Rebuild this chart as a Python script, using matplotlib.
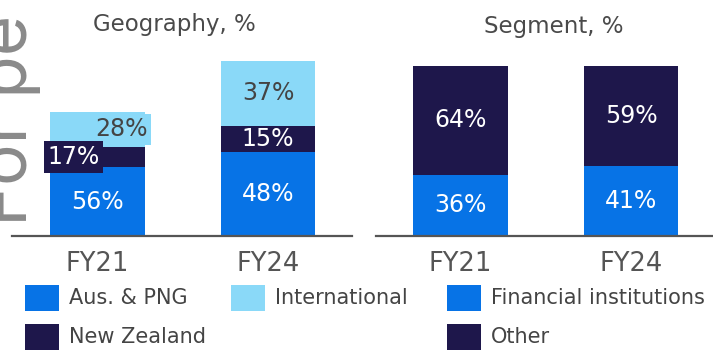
import matplotlib.pyplot as plt
from matplotlib.patches import Rectangle

plt.rcParams['font.family'] = ['DejaVu Sans']

years = ["FY21", "FY24"]

# geography split, % of each year's total
geo_aus_png = [56, 48]
geo_new_zealand = [17, 15]
geo_international = [28, 37]
# FY21 geography bar is drawn smaller, relative to the FY24 total
geo_relative_total = [0.70, 1.00]

# segment split, %
seg_financial = [36, 41]
seg_other = [64, 59]

BLUE = "#0773E6"
NAVY = "#1E174B"
LIGHT = "#8AD9F8"
TEXT = "#4a4a4a"

W, H = 713, 352
fig = plt.figure(figsize=(W / 100, H / 100), dpi=100)


def px_axes(x0, x1, y_top, y_bottom):
    return fig.add_axes([x0 / W, 1 - y_bottom / H, (x1 - x0) / W, (y_bottom - y_top) / H])


def style_axes(ax, xlim, ylim):
    ax.set_xlim(*xlim)
    ax.set_ylim(*ylim)
    for side in ("top", "left", "right"):
        ax.spines[side].set_visible(False)
    ax.spines["bottom"].set_color("#555555")
    ax.spines["bottom"].set_linewidth(1.6)
    ax.set_yticks([])
    ax.set_xticks(range(len(years)), years)
    ax.tick_params(axis="x", length=0, pad=11, labelsize=18.5, labelcolor="#555555")
    ax.patch.set_alpha(0)


BAR_W = 0.555
LABEL_SIZE = 17

# geography panel
ax_geo = px_axes(12, 352, 0, 236)
style_axes(ax_geo, (-0.501, 1.493), (0, 236 / 1.75))

bottom = [0.0, 0.0]
geo_series = [
    (geo_aus_png, BLUE, "white"),
    (geo_new_zealand, NAVY, "white"),
    (geo_international, LIGHT, "#444444"),
]
for k, (vals, col, tcol) in enumerate(geo_series):
    heights = [v * s for v, s in zip(vals, geo_relative_total)]
    ax_geo.bar(range(len(years)), heights, bottom=bottom, width=BAR_W, color=col,
               linewidth=0, zorder=2)
    for i, (v, h, b) in enumerate(zip(vals, heights, bottom)):
        y = b + h / 2
        if i == 0 and k > 0:
            # thin FY21 slices get an offset label on its own background
            dx = -24 if k == 1 else 24
            ax_geo.annotate(f"{v}%", xy=(i, y), xytext=(dx, 0), textcoords="offset pixels",
                            ha="center", va="center", fontsize=LABEL_SIZE, color=tcol,
                            zorder=5 if k == 1 else 4,
                            bbox=dict(boxstyle="square,pad=0.16", fc=col, ec="none"))
        else:
            ax_geo.text(i, y, f"{v}%", ha="center", va="center", fontsize=LABEL_SIZE,
                        color=tcol, zorder=3)
    bottom = [b + h for b, h in zip(bottom, heights)]

# segment panel
ax_seg = px_axes(376, 713, 0, 236)
style_axes(ax_seg, (-0.496, 1.481), (0, 236 / 1.70))

bottom = [0.0, 0.0]
for vals, col in [(seg_financial, BLUE), (seg_other, NAVY)]:
    ax_seg.bar(range(len(years)), vals, bottom=bottom, width=BAR_W, color=col,
               linewidth=0, zorder=2)
    for i, (v, b) in enumerate(zip(vals, bottom)):
        ax_seg.text(i, b + v / 2, f"{v}%", ha="center", va="center", fontsize=LABEL_SIZE,
                    color="white", zorder=3)
    bottom = [b + v for b, v in zip(bottom, vals)]

# panel titles
fig.text(174 / W, 1 - 24 / H, "Geography, %", ha="center", va="center",
         fontsize=16.5, color=TEXT)
fig.text(554 / W, 1 - 26 / H, "Segment, %", ha="center", va="center",
         fontsize=16.5, color=TEXT)

# legend
legend_items = [
    (25, 298, BLUE, "Aus. & PNG"),
    (231, 298, LIGHT, "International"),
    (447, 298, BLUE, "Financial institutions"),
    (25, 337, NAVY, "New Zealand"),
    (447, 337, NAVY, "Other"),
]
for x, yc, col, label in legend_items:
    fig.patches.append(Rectangle((x / W, 1 - (yc + 13) / H), 34 / W, 26 / H,
                                 transform=fig.transFigure, color=col, lw=0))
    fig.text((x + 44) / W, 1 - yc / H, label, ha="left", va="center",
             fontsize=15, color="#444444")

# watermark running up the left edge
fig.text(27 / W, 1 - 226 / H, "For pe", rotation=90, rotation_mode="anchor",
         ha="left", va="baseline", fontsize=50, color="#8a8a8a", family="Inter")

fig.savefig("out.png", dpi=100)
